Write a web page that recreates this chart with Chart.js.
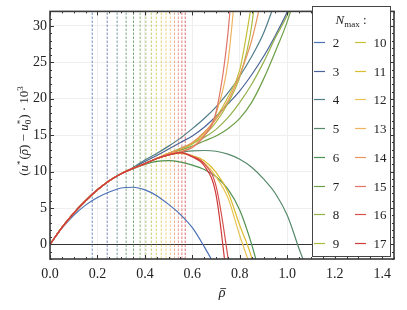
<!DOCTYPE html>
<html>
<head>
<meta charset="utf-8">
<script src="https://cdn.jsdelivr.net/npm/chart.js@4.4.1/dist/chart.umd.min.js"></script>
<style>
  html, body { margin: 0; padding: 0; background: #fff; }
  #wrap { width: 407px; height: 310px; }
</style>
</head>
<body>
<div id="wrap"><canvas id="chart" width="407" height="310"></canvas></div>
<script>
  "use strict";

  // ---- datos ----
  const N_MAX = [2, 3, 4, 5, 6, 7, 8, 9, 10, 11, 12, 13, 14, 15, 16, 17];
  const COLORS = [
    "#4a6fb5", "#4b6499", "#4f7d88", "#55896a", "#4f9150", "#6b9e45", "#93b04a", "#adba3c",
    "#c6bf38", "#dcbd2f", "#e9c452", "#efb461", "#e9945d", "#e07466", "#d6504d", "#cf3b3b"
  ];
  // lineas verticales discontinuas (una por N_max)
  const VLINE_X = [0.178, 0.241, 0.283, 0.321, 0.352, 0.380, 0.404, 0.427,
                   0.448, 0.469, 0.489, 0.507, 0.525, 0.541, 0.556, 0.570];

  const X = [0, 0.05, 0.1, 0.15, 0.2, 0.25, 0.3, 0.35, 0.4, 0.45, 0.5, 0.55,
             0.6, 0.65, 0.7, 0.75, 0.8, 0.85, 0.9, 0.95, 1.0, 1.05, 1.1];

  const Y_N2  = [0, 2.2, 4.0, 5.4, 6.45, 7.2, 7.75, 7.85, 7.5, 6.7, 5.5, 4.1, 2.3, -0.3, -3.2];
  const Y_N3  = [0, 2.3, 4.3, 6.0, 7.5, 8.75, 9.7, 10.5, 11.4, 12.2, 13.1, 14.0, 14.9, 16.1, 17.6, 19.3, 21.1, 23.3, 25.8, 28.7, 31.9, 35.5];
  const Y_N4  = [0, 2.3, 4.3, 6.0, 7.5, 8.75, 9.7, 10.55, 11.6, 12.5, 13.5, 14.6, 15.9, 17.3, 18.9, 20.8, 23.1, 25.8, 29.0, 33.4];
  const Y_N5  = [0, 2.3, 4.3, 6.0, 7.5, 8.75, 9.7, 10.45, 11.1, 11.8, 12.3, 12.65, 12.85, 12.9, 12.8, 12.4, 11.7, 10.6, 9.0, 7.0, 4.0, -0.6, -5];
  const Y_N6  = [0, 2.3, 4.3, 6.0, 7.5, 8.75, 9.7, 10.4, 11.0, 11.4, 11.5, 11.3, 10.9, 10.3, 9.3, 7.6, 4.7, 0.0, -6];
  const Y_N7  = [0, 2.3, 4.3, 6.0, 7.5, 8.75, 9.7, 10.45, 11.1, 11.8, 12.4, 12.95, 13.5, 14.2, 14.9, 15.9, 17.3, 19.5, 22.7, 26.5, 30.6, 36];
  const Y_N8  = [0, 2.3, 4.3, 6.0, 7.5, 8.75, 9.7, 10.45, 11.1, 11.8, 12.5, 13.2, 13.9, 14.7, 15.8, 17.4, 19.5, 22.0, 25.0, 28.4, 31.5, 36];
  const Y_N9  = [0, 2.3, 4.3, 6.0, 7.5, 8.75, 9.7, 10.45, 11.1, 11.8, 12.5, 13.1, 13.8, 15.0, 16.8, 19.4, 23.0, 30.0, 45];
  const Y_N10 = [0, 2.3, 4.3, 6.0, 7.5, 8.75, 9.7, 10.45, 11.1, 11.8, 12.5, 13.1, 13.9, 15.3, 17.4, 20.2, 24.0, 33.0];
  const Y_N11 = [0, 2.3, 4.3, 6.0, 7.5, 8.75, 9.7, 10.45, 11.1, 11.8, 12.3, 12.5, 12.2, 11.5, 9.9, 7.2, 2.6, -1.8, -9];
  const Y_N12 = [0, 2.3, 4.3, 6.0, 7.5, 8.75, 9.7, 10.45, 11.1, 11.8, 12.3, 12.5, 12.1, 11.2, 9.3, 6.4, 1.2, -3.5];
  const Y_N13 = [0, 2.3, 4.3, 6.0, 7.5, 8.75, 9.7, 10.45, 11.1, 11.8, 12.4, 12.8, 13.4, 15.1, 18.0, 25.0, 42];
  const Y_N14 = [0, 2.3, 4.3, 6.0, 7.5, 8.75, 9.7, 10.45, 11.1, 11.8, 12.5, 13.1, 14.0, 15.4, 17.2, 19.7, 23.3, 28.0, 35];
  const Y_N15 = [0, 2.3, 4.3, 6.0, 7.5, 8.75, 9.7, 10.45, 11.1, 11.8, 12.3, 12.7, 13.3, 14.9, 18.2, 29, 50];
  const Y_N16 = [0, 2.3, 4.3, 6.0, 7.5, 8.75, 9.7, 10.45, 11.1, 11.8, 12.3, 12.6, 12.1, 11.1, 8.0, -1.8, -15];
  const Y_N17 = [0, 2.3, 4.3, 6.0, 7.5, 8.75, 9.7, 10.45, 11.1, 11.8, 12.3, 12.6, 12.0, 10.8, 6.8, -6];

  const CURVES = [Y_N2, Y_N3, Y_N4, Y_N5, Y_N6, Y_N7, Y_N8, Y_N9,
                  Y_N10, Y_N11, Y_N12, Y_N13, Y_N14, Y_N15, Y_N16, Y_N17];

  const X_TICKS = [0, 0.2, 0.4, 0.6, 0.8, 1.0, 1.2, 1.4];
  const Y_TICKS = [0, 5, 10, 15, 20, 25, 30];

  const SERIF = '"Liberation Serif", "DejaVu Serif", serif';

  function hexA(hex, a) {
    const n = parseInt(hex.slice(1), 16);
    return `rgba(${n >> 16},${(n >> 8) & 255},${n & 255},${a})`;
  }

  // texto con cursivas / super / subindices / barra encima
  function drawRich(ctx, segs, cx, cy) {
    let total = 0;
    segs.forEach(s => {
      ctx.font = `${s.it ? "italic " : ""}${s.size || 13}px ${SERIF}`;
      s.w = ctx.measureText(s.t).width;
      if (s.sub) {
        ctx.font = `${s.sub.size}px ${SERIF}`;
        s.w = Math.max(s.w, ctx.measureText(s.sub.t).width);
      }
      total += s.w + (s.gap || 0);
    });
    let x = cx - total / 2;
    ctx.textAlign = "left";
    ctx.textBaseline = "alphabetic";
    segs.forEach(s => {
      const size = s.size || 13;
      ctx.font = `${s.it ? "italic " : ""}${size}px ${SERIF}`;
      ctx.fillText(s.t, x, cy + (s.dy || 0));
      if (s.bar) {
        const by = Math.round(cy - size * 0.62) + 0.5;
        ctx.save();
        ctx.strokeStyle = ctx.fillStyle;
        ctx.lineWidth = 0.8;
        ctx.beginPath();
        ctx.moveTo(x + size * 0.12, by);
        ctx.lineTo(x + s.w + size * 0.05, by);
        ctx.stroke();
        ctx.restore();
      }
      if (s.sub) {
        ctx.font = `${s.sub.size}px ${SERIF}`;
        ctx.fillText(s.sub.t, x, cy + s.sub.dy);
      }
      x += s.w + (s.gap || 0);
    });
  }

  // ---- datasets ----
  const datasets = [];
  CURVES.forEach((ys, i) => {
    datasets.push({
      label: "N=" + N_MAX[i],
      data: X.map((x, k) => ({ x, y: ys[k] })).filter(p => p.y !== undefined && p.y !== null),
      borderColor: COLORS[i],
      borderWidth: 1.2,
      pointRadius: 0,
      fill: false,
      cubicInterpolationMode: "monotone",
      order: 100 - N_MAX[i]
    });
  });
  VLINE_X.forEach((v, i) => {
    datasets.push({
      label: "v" + N_MAX[i],
      data: [{ x: v, y: -2 }, { x: v, y: 32 }],
      borderColor: hexA(COLORS[i], 0.75),
      borderWidth: 1,
      borderDash: [2.5, 1.5],
      pointRadius: 0,
      fill: false,
      order: 200
    });
  });

  // ---- marco, ticks interiores, titulos y leyenda ----
  const decorPlugin = {
    id: "decor",
    afterDatasetsDraw(chart) {
      const { ctx, chartArea: a } = chart;
      const xs = chart.scales.x, ys = chart.scales.y;
      ctx.save();
      ctx.strokeStyle = "#333";
      ctx.lineWidth = 1;
      ctx.beginPath();
      for (let k = 0; k <= 29; k++) {
        const px = Math.round(xs.getPixelForValue(k * 0.05)) + 0.5;
        const len = k % 4 === 0 ? 4 : 2;
        ctx.moveTo(px, a.bottom); ctx.lineTo(px, a.bottom - len);
        ctx.moveTo(px, a.top); ctx.lineTo(px, a.top + len);
      }
      for (let k = -2; k <= 32; k++) {
        const py = Math.round(ys.getPixelForValue(k)) + 0.5;
        const len = k % 5 === 0 ? 4 : 2;
        ctx.moveTo(a.left, py); ctx.lineTo(a.left + len, py);
        ctx.moveTo(a.right, py); ctx.lineTo(a.right - len, py);
      }
      ctx.stroke();

      ctx.strokeStyle = "#3a3a3a";
      ctx.lineWidth = 1.6;
      ctx.strokeRect(a.left, a.top, a.right - a.left, a.bottom - a.top);

      // leyenda
      ctx.fillStyle = "#fff";
      ctx.fillRect(312, 6, 79, 251);
      ctx.strokeStyle = "#444";
      ctx.lineWidth = 1;
      ctx.strokeRect(312.5, 6.5, 78, 250);
      ctx.fillStyle = "#222";
      drawRich(ctx, [
        { t: "N", it: true, size: 13 },
        { t: "max", size: 9, dy: 3 },
        { t: " :", size: 13 }
      ], 351, 24);
      N_MAX.forEach((n, i) => {
        const col = Math.floor(i / 8), row = i % 8;
        const y = Math.round(42 + row * 28.7) + 0.5;
        const x0 = col ? 355 : 314;
        ctx.strokeStyle = COLORS[i];
        ctx.lineWidth = 1.2;
        ctx.beginPath(); ctx.moveTo(x0, y); ctx.lineTo(x0 + 11, y); ctx.stroke();
        ctx.fillStyle = "#222";
        ctx.font = `13px ${SERIF}`;
        ctx.textAlign = "center";
        ctx.textBaseline = "middle";
        ctx.fillText(String(n), col ? 380 : 336, y + 1);
      });

      // titulos de ejes
      ctx.fillStyle = "#222";
      drawRich(ctx, [{ t: "\u03C1", it: true, size: 14, bar: true }], (a.left + a.right) / 2, 297);
      ctx.translate(24, 131);
      ctx.rotate(-Math.PI / 2);
      drawRich(ctx, [
        { t: "(" }, { t: "u", it: true }, { t: "*", size: 9, dy: -5, gap: 1 },
        { t: "(" }, { t: "\u03C1", it: true, bar: true }, { t: ")" }, { t: " \u2212 " },
        { t: "u", it: true }, { t: "*", size: 9, dy: -5, sub: { t: "0", size: 9, dy: 3 }, gap: 1 },
        { t: ")" }, { t: " \u00B7 10" }, { t: "3", size: 9, dy: -5 }
      ], 0, 4);
      ctx.restore();
    }
  };

  Chart.defaults.font.family = SERIF;
  Chart.defaults.color = "#222";

  new Chart(document.getElementById("chart"), {
    type: "line",
    data: { datasets },
    options: {
      responsive: false,
      animation: false,
      devicePixelRatio: 1,
      layout: { padding: { top: 4, right: 13, left: 0, bottom: 0 } },
      plugins: { legend: { display: false }, tooltip: { enabled: false } },
      scales: {
        x: {
          type: "linear",
          min: 0,
          max: 1.45,
          afterBuildTicks: s => { s.ticks = X_TICKS.map(v => ({ value: v })); },
          afterFit: s => { s.height = 51; },
          border: { display: false },
          grid: { color: "#efefef", lineWidth: 1, drawTicks: false },
          ticks: { padding: 7, font: { size: 14 }, maxRotation: 0, callback: v => Number(v).toFixed(1) }
        },
        y: {
          type: "linear",
          min: -2,
          max: 32,
          afterBuildTicks: s => { s.ticks = Y_TICKS.map(v => ({ value: v })); },
          afterFit: s => { s.width = 50; },
          border: { display: false },
          grid: {
            color: c => (c.tick && c.tick.value === 0 ? "#333" : "#efefef"),
            lineWidth: 1,
            drawTicks: false
          },
          ticks: { padding: 3, font: { size: 14 }, callback: v => String(v) }
        }
      }
    },
    plugins: [decorPlugin]
  });
</script>
</body>
</html>
